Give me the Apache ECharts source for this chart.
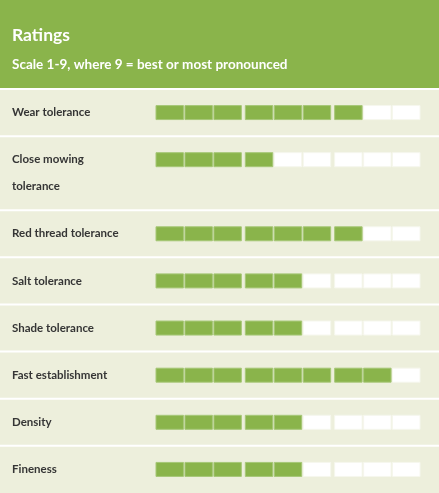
<!DOCTYPE html>
<html>
<head>
<meta charset="utf-8">
<script src="https://cdn.jsdelivr.net/npm/echarts@6.0.0/dist/echarts.min.js"></script>
<style>
html, body { margin: 0; padding: 0; background: #edefdc; }
#chart { width: 439px; height: 493px; }
</style>
</head>
<body>
<div id="chart"></div>
<script>
// data
var traits = ['Wear tolerance', 'Close mowing\ntolerance', 'Red thread tolerance', 'Salt tolerance',
    'Shade tolerance', 'Fast establishment', 'Density', 'Fineness'];
var ratings = [7, 4, 7, 5, 5, 8, 5, 5];
var scaleMax = 9;

var green = '#8ab44b';
var cellW = 0.948;      // cell width in pitch units
var groupGap = 0.086;   // extra gap after each group of 3
var extraLine = 0.572;  // row growth per extra label line

var chart = echarts.init(document.getElementById('chart'));

// row tops, in row units
var rowData = [];
var rowPos = 0;
traits.forEach(function (name, i) {
    var span = 1 + (name.split('\n').length - 1) * extraLine;
    rowData.push([i, ratings[i], rowPos, span]);
    rowPos += span;
});
var total = rowPos;
var xMax = (scaleMax - 1) + 2 * groupGap + cellW;

var option = {
    backgroundColor: '#edefdc',
    animation: false,
    title: {
        text: 'Ratings',
        subtext: 'Scale 1-9, where 9 = best or most pronounced',
        left: 12,
        top: 26,
        padding: 0,
        itemGap: 14,
        textStyle: { color: '#fff', fontFamily: 'Lato', fontWeight: 'bold', fontSize: 17.5 },
        subtextStyle: { color: '#fff', fontFamily: 'Lato', fontWeight: 'bold', fontSize: 13.5 }
    },
    graphic: [{
        type: 'rect',
        z: -10,
        shape: { x: 0, y: 0, width: 439, height: 88 },
        style: { fill: green }
    }],
    grid: { left: 156, width: 264, top: 89, height: 404 },
    xAxis: { type: 'value', min: 0, max: xMax, show: false },
    yAxis: { type: 'value', min: 0, max: total, inverse: true, show: false },
    series: [{
        type: 'custom',
        clip: false,
        data: rowData,
        renderItem: function (params, api) {
            var row = api.value(0), score = api.value(1), rowTop = api.value(2);
            var yTop = api.coord([0, rowTop])[1];
            var yMid = api.coord([0, rowTop + 0.5])[1];
            var w = api.size([cellW, 0])[0];
            var children = [{
                type: 'line',
                shape: { x1: 0, y1: yTop, x2: api.getWidth(), y2: yTop },
                style: { stroke: '#ffffff', lineWidth: 2 }
            }, {
                type: 'text',
                x: 12,
                y: yMid - 13.5,
                style: {
                    text: traits[row],
                    font: 'bold 11.5px Lato',
                    fill: '#353535',
                    lineHeight: 27,
                    verticalAlign: 'top'
                }
            }];
            for (var i = 0; i < scaleMax; i++) {
                var x0 = i + Math.floor(i / 3) * groupGap;
                var p = api.coord([x0, rowTop + 0.5]);
                children.push({
                    type: 'rect',
                    shape: { x: p[0], y: p[1] - 7, width: w, height: 14 },
                    style: {
                        fill: i < score ? green : '#ffffff',
                        stroke: i < score ? '#a6c777' : '#f6f7ee',
                        lineWidth: 1
                    }
                });
            }
            return { type: 'group', children: children };
        }
    }]
};
chart.setOption(option);
</script>
</body>
</html>
